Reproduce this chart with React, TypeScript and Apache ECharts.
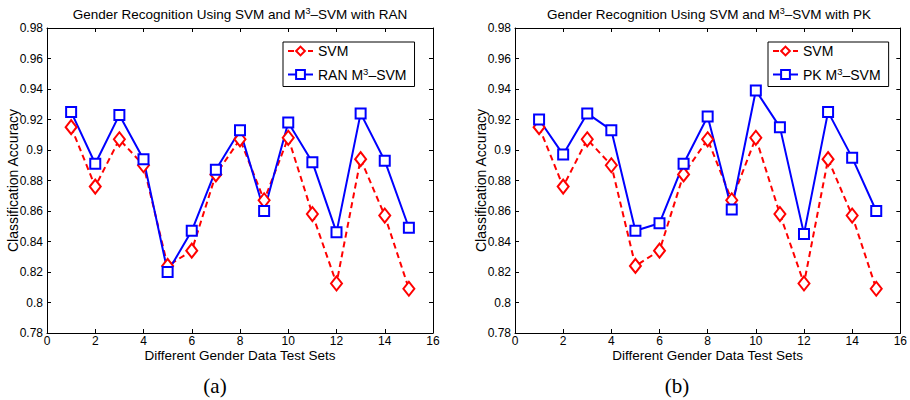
import React, { useEffect, useRef } from "react";
import * as echarts from "echarts";

const testSets = [1, 2, 3, 4, 5, 6, 7, 8, 9, 10, 11, 12, 13, 14, 15];
const svmAcc = [0.915, 0.876, 0.907, 0.890, 0.824, 0.834, 0.884, 0.907, 0.867, 0.908, 0.858, 0.8125, 0.894, 0.857, 0.809];
const ranM3Acc = [0.925, 0.891, 0.923, 0.894, 0.820, 0.847, 0.887, 0.913, 0.860, 0.918, 0.892, 0.846, 0.924, 0.893, 0.849];
const pkM3Acc = [0.920, 0.897, 0.924, 0.913, 0.847, 0.852, 0.891, 0.922, 0.861, 0.939, 0.915, 0.845, 0.925, 0.895, 0.860];

const xTicks = [0, 16, 2];
const yTicks = [0.78, 0.98, 0.02];

const titleA = "Gender Recognition Using SVM and M{s|3}–SVM with RAN";
const titleB = "Gender Recognition Using SVM and M{s|3}–SVM with PK";
const xName = "Different Gender Data Test Sets";
const yName = "Classification Accuracy";
const svmName = "SVM";
const ranName = "RAN M³–SVM";
const pkName = "PK M³–SVM";

const FONT = "Liberation Sans";

export default function App() {
  const ref = useRef<HTMLDivElement>(null);
  useEffect(() => {
    if (!ref.current) return;
    const chart = echarts.init(ref.current, null, { renderer: "svg" });
    const grids = [
      { left: 47, top: 28, width: 386, height: 305 },
      { left: 515, top: 28, width: 386, height: 305 },
    ];
    const fmtY = (v: number) => String(parseFloat(v.toFixed(2)));
    const mkX = (gi: number, pos: "bottom" | "top") => ({
      type: "value",
      gridIndex: gi,
      position: pos,
      min: xTicks[0],
      max: xTicks[1],
      interval: xTicks[2],
      name: pos === "bottom" ? xName : "",
      nameLocation: "middle",
      nameGap: 15,
      nameMoveOverlap: false,
      nameTextStyle: { fontFamily: FONT, fontSize: 13.5, color: "#000" },
      axisLine: { show: true, onZero: false, lineStyle: { color: "#000", width: 1 } },
      axisTick: { show: true, inside: true, length: 4, lineStyle: { color: "#000" } },
      axisLabel: {
        show: pos === "bottom",
        margin: 2,
        fontFamily: FONT,
        fontSize: 12,
        color: "#000",
      },
      splitLine: { show: false },
    });
    const mkY = (gi: number, pos: "left" | "right") => ({
      type: "value",
      gridIndex: gi,
      position: pos,
      min: yTicks[0],
      max: yTicks[1],
      interval: yTicks[2],
      name: pos === "left" ? yName : "",
      nameLocation: "middle",
      nameGap: 27,
      nameMoveOverlap: false,
      nameRotate: 90,
      nameTextStyle: { fontFamily: FONT, fontSize: 14, color: "#000" },
      axisLine: { show: true, onZero: false, lineStyle: { color: "#000", width: 1 } },
      axisTick: { show: true, inside: true, length: 4, lineStyle: { color: "#000" } },
      axisLabel: {
        show: pos === "left",
        margin: 4,
        fontFamily: FONT,
        fontSize: 12,
        color: "#000",
        formatter: fmtY,
      },
      splitLine: { show: false },
    });

    const svmSeries = (xi: number, yi: number) => ({
      name: svmName,
      type: "line",
      xAxisIndex: xi,
      yAxisIndex: yi,
      data: testSets.map((x, i) => [x, svmAcc[i]]),
      symbol: "diamond",
      symbolSize: [11, 14],
      color: "#ff0000",
      lineStyle: { color: "#ff0000", width: 2, type: [6, 4] },
      itemStyle: { color: "#ffffff", borderColor: "#ff0000", borderWidth: 2 },
    });
    const m3Series = (name: string, vals: number[], xi: number, yi: number) => ({
      name,
      type: "line",
      xAxisIndex: xi,
      yAxisIndex: yi,
      data: testSets.map((x, i) => [x, vals[i]]),
      symbol: "rect",
      symbolSize: 10,
      color: "#0000ff",
      lineStyle: { color: "#0000ff", width: 2, type: "solid" },
      itemStyle: { color: "#ffffff", borderColor: "#0000ff", borderWidth: 2 },
    });

    const legendFmt = (name: string) => {
      if (name === svmName) return name;
      const parts = name.split("³");
      return `{n|${parts[0]}}{s|3}{n|${parts[1]}}`;
    };
    const mkLegend = (left: number, names: string[]) => ({
      orient: "vertical",
      left,
      top: 42,
      data: names,
      itemWidth: 25,
      itemHeight: 11,
      itemGap: 8,
      padding: [2, 8, 5, 4],
      borderColor: "#000",
      borderWidth: 1,
      backgroundColor: "#fff",
      selectedMode: false,
      formatter: legendFmt,
      textStyle: {
        fontFamily: FONT,
        fontSize: 14,
        color: "#000",
        rich: {
          n: { fontFamily: FONT, fontSize: 14, color: "#000" },
          s: { fontFamily: FONT, fontSize: 9.5, color: "#000", padding: [0, 0, 7, 0] },
        },
      },
    });

    const titleStyle = {
      fontFamily: FONT,
      fontSize: 13.5,
      fontWeight: "normal",
      color: "#000",
      rich: {
        s: { fontFamily: FONT, fontSize: 9, color: "#000", padding: [0, 0, 7, 0] },
      },
    };

    const caption = (x: number, text: string) => ({
      type: "text",
      x,
      y: 386,
      style: {
        text,
        fontFamily: "Liberation Serif",
        fontSize: 21,
        fill: "#000",
        align: "center",
        verticalAlign: "middle",
      },
    });

    chart.setOption({
      animation: false,
      backgroundColor: "#fff",
      title: [
        { text: titleA, left: 240, top: 6, textAlign: "center", padding: 0, textStyle: titleStyle },
        { text: titleB, left: 709, top: 6, textAlign: "center", padding: 0, textStyle: titleStyle },
      ],
      legend: [mkLegend(283, [svmName, ranName]), mkLegend(768, [svmName, pkName])],
      grid: grids,
      xAxis: [mkX(0, "bottom"), mkX(0, "top"), mkX(1, "bottom"), mkX(1, "top")],
      yAxis: [mkY(0, "left"), mkY(0, "right"), mkY(1, "left"), mkY(1, "right")],
      series: [
        svmSeries(0, 0),
        m3Series(ranName, ranM3Acc, 0, 0),
        svmSeries(2, 2),
        m3Series(pkName, pkM3Acc, 2, 2),
      ],
      graphic: [caption(215, "(a)"), caption(677, "(b)")],
    });
    return () => chart.dispose();
  }, []);
  return (
    <div
      ref={ref}
      style={{ position: "fixed", left: 0, top: 0, width: 910, height: 400, background: "#fff" }}
    />
  );
}
